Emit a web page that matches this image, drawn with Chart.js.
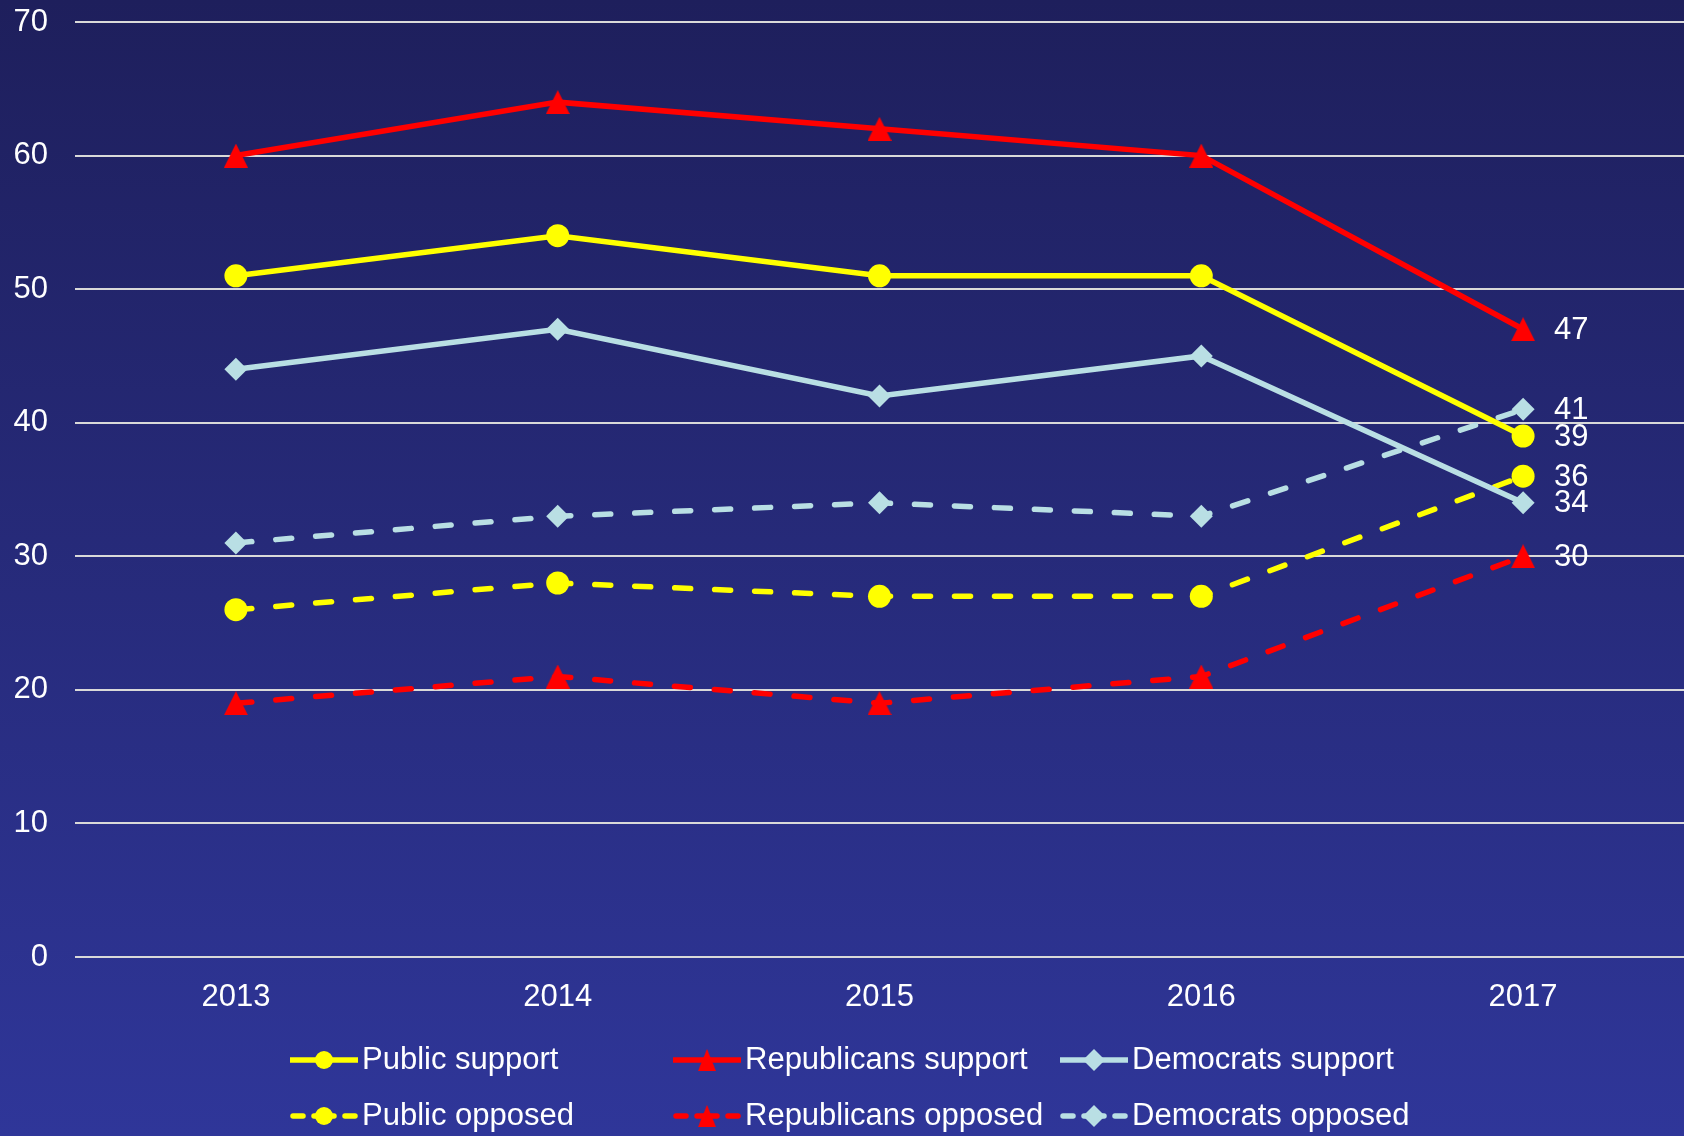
<!DOCTYPE html>
<html>
<head>
<meta charset="utf-8">
<title>Support and opposition, 2013–2017</title>
<script src="https://cdn.jsdelivr.net/npm/chart.js@4/dist/chart.umd.min.js"></script>
<style>
  html, body { margin: 0; padding: 0; background: #2a2f85; }
  #wrap { width: 1684px; height: 1136px; }
</style>
</head>
<body>
<div id="wrap"><canvas id="chart" width="1684" height="1136"></canvas></div>
<script>
// ── DATA ───────────────────────────────────────
const YEARS = ['2013', '2014', '2015', '2016', '2017'];

const publicSupport       = [51, 54, 51, 51, 39];
const republicansSupport  = [60, 64, 62, 60, 47];
const democratsSupport    = [44, 47, 42, 45, 34];
const publicOpposed       = [26, 28, 27, 27, 36];
const republicansOpposed  = [19, 21, 19, 21, 30];
const democratsOpposed    = [31, 33, 34, 33, 41];

const Y_TICKS = [0, 10, 20, 30, 40, 50, 60, 70];

// ── STYLE ──────────────────────────────────────
const YELLOW = '#FFFF00';
const RED    = '#FF0000';
const BLUE   = '#B9DFE4';
const FONT   = '"Liberation Sans", Arial, sans-serif';
const DASH   = [16, 24];

// triángulo centrado en el punto (el de Chart.js queda desplazado hacia arriba)
function triangulo(size, color) {
  const c = document.createElement('canvas');
  c.width = size; c.height = size;
  const g = c.getContext('2d');
  g.fillStyle = color;
  g.beginPath();
  g.moveTo(size / 2, 0);
  g.lineTo(size, size);
  g.lineTo(0, size);
  g.closePath();
  g.fill();
  return c;
}
const TRI = triangulo(24, RED);

function serie(label, data, color, shape, radius, dashed) {
  return {
    label, data,
    borderColor: color,
    backgroundColor: color,
    borderWidth: 5.5,
    borderDash: dashed ? DASH : [],
    borderCapStyle: dashed ? 'round' : 'butt',
    pointStyle: shape,
    pointRadius: radius,
    pointHoverRadius: radius,
    pointBorderWidth: 0,
    tension: 0
  };
}

const datasets = [
  serie('Public support',       publicSupport,      YELLOW, 'circle',  11.5, false),
  serie('Republicans support',  republicansSupport, RED,    TRI,       12,   false),
  serie('Democrats support',    democratsSupport,   BLUE,   'rectRot', 11.5, false),
  serie('Public opposed',       publicOpposed,      YELLOW, 'circle',  11.5, true),
  serie('Republicans opposed',  republicansOpposed, RED,    TRI,       12,   true),
  serie('Democrats opposed',    democratsOpposed,   BLUE,   'rectRot', 11.5, true)
];

// ── PLUGINS ────────────────────────────────────
// fondo degradado
const fondo = {
  id: 'fondo',
  beforeDraw(chart) {
    const { ctx, width, height } = chart;
    const g = ctx.createLinearGradient(0, 0, 0, height);
    g.addColorStop(0, '#1E1F5C');
    g.addColorStop(1, '#2F3699');
    ctx.save();
    ctx.fillStyle = g;
    ctx.fillRect(0, 0, width, height);
    ctx.restore();
  }
};

// valor al final de cada serie
const etiquetas = {
  id: 'etiquetas',
  afterDatasetsDraw(chart) {
    const { ctx } = chart;
    ctx.save();
    ctx.font = '31px ' + FONT;
    ctx.fillStyle = '#FFFFFF';
    ctx.textAlign = 'left';
    ctx.textBaseline = 'middle';
    chart.data.datasets.forEach((ds, i) => {
      const pts = chart.getDatasetMeta(i).data;
      const p = pts[pts.length - 1];
      ctx.fillText(String(ds.data[ds.data.length - 1]), p.x + 31, p.y + 1);
    });
    ctx.restore();
  }
};

// leyenda en 3 columnas
const leyenda = {
  id: 'leyenda',
  afterDraw(chart) {
    const { ctx } = chart;
    const cols = [290, 673, 1060];
    const rows = [1060, 1116];
    ctx.save();
    ctx.font = '31px ' + FONT;
    ctx.textBaseline = 'middle';
    ctx.fillStyle = '#FFFFFF';
    chart.data.datasets.forEach((ds, i) => {
      const x = cols[i % 3];
      const y = rows[Math.floor(i / 3)];
      const mid = x + 34;
      ctx.strokeStyle = ds.borderColor;
      ctx.lineWidth = 5.5;
      if (ds.borderDash.length) {
        ctx.lineCap = 'round';
        ctx.beginPath(); ctx.moveTo(x + 3, y); ctx.lineTo(x + 13, y); ctx.stroke();
        ctx.beginPath(); ctx.moveTo(x + 55, y); ctx.lineTo(x + 65, y); ctx.stroke();
        ctx.beginPath(); ctx.moveTo(x + 24, y); ctx.lineTo(x + 44, y); ctx.stroke();
      } else {
        ctx.lineCap = 'butt';
        ctx.beginPath(); ctx.moveTo(x, y); ctx.lineTo(x + 68, y); ctx.stroke();
      }
      ctx.fillStyle = ds.backgroundColor;
      if (ds.pointStyle === TRI) {
        ctx.drawImage(TRI, mid - 9, y - 11, 18, 22);
      } else {
        Chart.helpers.drawPoint(ctx, {
          pointStyle: ds.pointStyle,
          radius: ds.pointStyle === 'circle' ? 9 : 11,
          borderWidth: 0,
          rotation: 0
        }, mid, y);
      }
      ctx.fillStyle = '#FFFFFF';
      ctx.fillText(ds.label, x + 72, y);
    });
    ctx.restore();
  }
};

// ── GRÁFICO ────────────────────────────────────
new Chart(document.getElementById('chart').getContext('2d'), {
  type: 'line',
  data: { labels: YEARS, datasets },
  plugins: [fondo, etiquetas, leyenda],
  options: {
    responsive: false,
    animation: false,
    layout: { autoPadding: false, padding: { top: 22, right: 0, bottom: 0, left: 0 } },
    plugins: {
      legend: { display: false },
      tooltip: { enabled: false }
    },
    scales: {
      x: {
        offset: true,
        grid: { display: false, drawTicks: false },
        border: { display: false },
        ticks: { color: '#FFFFFF', font: { family: FONT, size: 31 }, padding: 22 },
        afterFit(scale) { scale.height = 179; }
      },
      y: {
        min: 0, max: 70,
        afterBuildTicks(scale) { scale.ticks = Y_TICKS.map(v => ({ value: v })); },
        grid: { color: '#D9D9D9', lineWidth: 2, drawTicks: false },
        border: { display: false },
        ticks: { color: '#FFFFFF', font: { family: FONT, size: 31 }, padding: 27 },
        afterFit(scale) {
          scale.width = 75;
          scale.paddingTop = 0;
          scale.paddingBottom = 0;
        }
      }
    }
  }
});
</script>
</body>
</html>
